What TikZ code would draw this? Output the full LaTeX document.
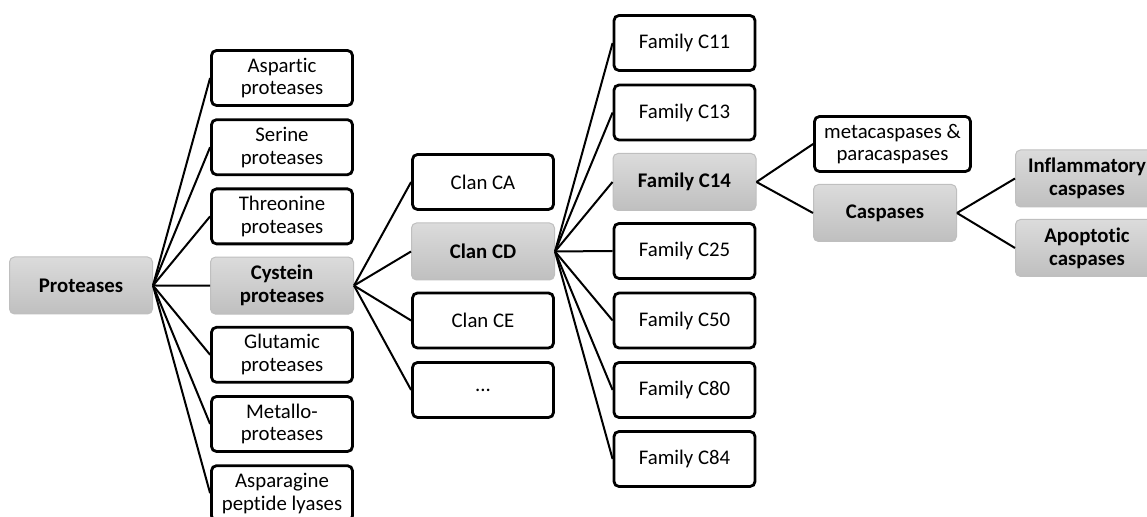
\documentclass[tikz,border=0pt]{standalone}
\usepackage{fontspec}
\setmainfont{Carlito}[Ligatures=NoCommon]
\usetikzlibrary{calc}
\tikzset{
	plainbox/.style={draw=black, line width=1.4pt, rounded corners=2.5pt, fill=white,
		minimum width=70.5pt, minimum height=27.5pt, align=center, inner sep=1pt,
		font=\fontsize{10.4}{11.4}\selectfont},
	greybox/.style={plainbox, draw=black!25, line width=0.5pt, top color=black!14, bottom color=black!25,
		minimum width=71.5pt, minimum height=28.5pt, font=\fontsize{10.4}{11.4}\selectfont\bfseries},
	link/.style={line width=1pt}
}

\begin{document}
\begin{tikzpicture}[x=0.5pt, y=-0.5pt]
			%%%%% START %%%%%
			\useasboundingbox (0, 0) rectangle (1147, 517);
			
			\node[greybox] (protease) at (81, 285.5) {Proteases};
			
			\node[plainbox] (aspartic) at (282, 78) {Aspartic\\proteases};
			\node[plainbox] (serine) at (282, 147.2) {Serine\\proteases};
			\node[plainbox] (threonine) at (282, 216.4) {Threonine\\proteases};
			\node[greybox] (cystein) at (282, 285.6) {Cystein\\proteases};
			\node[plainbox] (glutamic) at (282, 354.8) {Glutamic\\proteases};
			\node[plainbox] (metallo) at (282, 424) {Metallo-\\proteases};
			\node[plainbox] (asparagine) at (282, 493.2) {Asparagine\\peptide lyases};
			
			\node[plainbox] (clanca) at (483, 182) {Clan CA};
			\node[greybox] (clancd) at (483, 251.5) {Clan CD};
			\node[plainbox] (clance) at (483, 320.5) {Clan CE};
			\node[plainbox] (clandots) at (483, 390) {...};
			
			\node[plainbox] (famc11) at (684.5, 43) {Family C11};
			\node[plainbox] (famc13) at (684.5, 112.5) {Family C13};
			\node[greybox] (famc14) at (684.5, 182) {Family C14};
			\node[plainbox] (famc25) at (684.5, 251) {Family C25};
			\node[plainbox] (famc50) at (684.5, 320.5) {Family C50};
			\node[plainbox] (famc80) at (684.5, 390) {Family C80};
			\node[plainbox] (famc84) at (684.5, 459) {Family C84};
			
			\node[plainbox, minimum width=78pt] (meta) at (892.5, 144) {metacaspases \&\\paracaspases};
			\node[greybox] (caspases) at (885, 213) {Caspases};
			
			\node[greybox] (inflam) at (1087, 178.5) {Inflammatory\\caspases};
			\node[greybox] (apopt) at (1087, 248) {Apoptotic\\caspases};
			
			\foreach \n in {aspartic, serine, threonine, cystein, glutamic, metallo, asparagine}
				\draw[link] (protease.east) -- (\n.west);
			\foreach \n in {clanca, clancd, clance, clandots}
				\draw[link] (cystein.east) -- (\n.west);
			\foreach \n in {famc11, famc13, famc14, famc25, famc50, famc80, famc84}
				\draw[link] (clancd.east) -- (\n.west);
			\draw[link] (famc14.east) -- (meta.west);
			\draw[link] (famc14.east) -- (caspases.west);
			\draw[link] (caspases.east) -- (inflam.west);
			\draw[link] (caspases.east) -- (apopt.west);
			
			%%%%% END %%%%%
\end{tikzpicture}
\end{document}
